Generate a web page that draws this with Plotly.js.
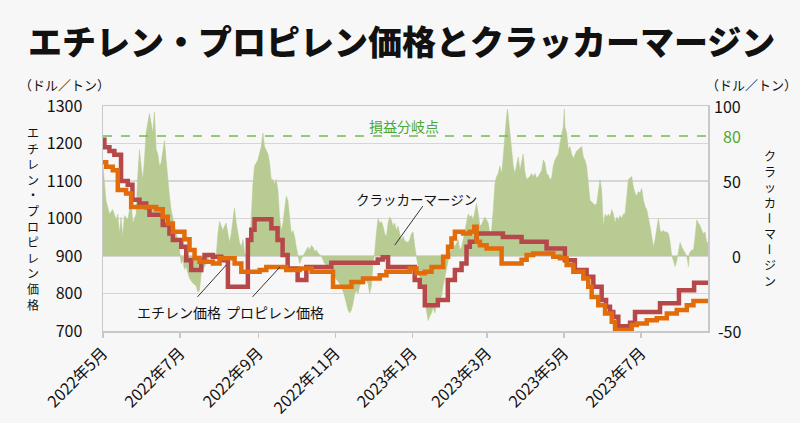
<!DOCTYPE html>
<html><head><meta charset="utf-8">
<script src="https://cdn.plot.ly/plotly-3.0.1.min.js"></script>
<style>html,body{margin:0;padding:0;background:#f7f7f7;}#c{width:800px;height:423px;}</style>
</head><body><div id="c"></div>
<script>
// x values: days since 2022-05-01
const tickDays = [0, 61, 123, 184, 245, 304, 365, 426];
const tickLabels = ['2022年5月','2022年7月','2022年9月','2022年11月','2023年1月','2023年3月','2023年5月','2023年7月'];

const priceTicks = [700, 800, 900, 1000, 1100, 1200, 1300];
const marginTicks = [100, 80, 50, 0, -50];
const priceRange = [700, 1300];
const marginRange = [-50, 100];
const breakEven = 80;

const marginDay = [0,2.4,5.1,7.7,10.4,11.7,13,14.3,15.6,17,19.6,22.2,23.6,26.2,27.5,28.9,30.2,31.5,32.8,34.1,36.8,38.1,39.4,40.7,42.1,43.4,44.7,46,47.3,48.7,50,51.3,52.6,53.9,55.3,56.6,57.9,59.2,60.6,61.9,63.2,64.5,65.8,67.2,68.5,71.1,73.8,75.1,76.4,77.7,79.1,81.7,83,84.3,87,89.6,91,92.3,93.6,94.9,96.2,97.5,98.9,100.2,101.5,102.8,104.1,105.5,106.8,108.1,109.4,110.8,112.1,113.4,114.7,116,117.4,118.7,120,
122.6,125.3,126.6,127.9,129.2,130.6,131.9,133.2,134.5,135.9,137.2,138.5,139.8,141.1,142.5,143.8,145.1,146.4,147.7,149.1,150.4,151.7,153,154.3,155.7,157,158.3,159.6,161,162.3,163.6,164.9,166.2,167.6,168.9,170.2,172.8,175.5,178.1,180.8,183.4,186.1,188.7,191.3,192.7,194,195.3,196.6,197.9,199.3,200.6,201.9,203.2,204.5,205.9,207.2,208.5,209.8,211.1,212.5,213.8,215.1,216.4,217.8,219.1,220.4,221.7,223,224.4,225.7,227,228.3,229.6,231,232.3,233.6,234.9,236.2,237.6,238.9,241.5,
242.9,244.2,245.5,246.9,248.2,249.5,250.8,252.1,253.5,254.8,256.1,257.4,258.8,260.1,261.4,262.7,264,265.4,266.7,268,269.3,270.6,272,273.3,274.6,275.9,277.2,278.6,279.9,281.2,282.5,283.9,285.2,286.5,287.8,289.1,290.5,291.8,293.1,294.4,295.7,297.1,298.4,299.7,301,302.3,303.7,305,306.3,307.6,309,310.3,311.6,312.9,314.2,315.6,316.9,318.2,319.5,320.3,321.4,322.2,323.5,324.8,326.1,327.4,328.8,330.1,331.4,332.7,334,335.4,336.7,338,339.3,340.7,342,343.3,344.6,345.9,347.3,348.6,349.9,351.2,352.5,353.9,355.2,356.5,357.8,359.1,360.5,361.8,363.1,364.4,365.2,
365.8,367.1,368.4,369.7,371,372.4,373.7,375,376.3,377.7,379,380.3,381.6,382.9,384.3,385.6,386.9,388.2,389.5,390.9,392.2,393.5,394.8,396.1,397.5,398.8,400.1,401.4,402.8,404.1,405.4,406.7,408,409.4,410.7,412,413.3,414.6,416,417.3,418.6,419.9,421.2,422.6,423.9,425.2,426.5,427.9,429.2,430.5,431.8,433.1,434.5,435.8,437.1,438.4,439.7,441.1,442.4,443.7,445,446.3,447.7,449,450.3,451.6,453,454.3,455.6,456.9,458.2,459.6,460.9,462.2,463.5,464.3,466.2,467.5,468.8,470.1,471.4,472.8,474.1,475.4,476.7,478,479];
const marginVal = [60,37,28,31,24,28,15,26,13,27,24,37,22,28,53,71,60,51,64,82,95,88,82,96,71,68,60,62,68,77,64,51,40,31,24,20,15,11,4,-5,-3,-9,-7,-12,-15,-18,-20,-24,-23,-12,-9,-5,-3,0,-3,0,15,23,20,17,20,22,15,9,15,22,32,22,15,9,6,11,2,0,2,6,26,48,60,
64,73,82,73,71,68,62,51,51,48,51,44,26,17,22,31,40,37,24,15,17,13,6,0,-5,-2,0,2,4,6,4,7,6,3,4,2,0,-5,-7,-9,-14,-17,-20,-27,-33,-36,-38,-36,-32,-25,-23,-25,-20,-18,-19,-16,-17,-18,-25,-20,-5,2,15,25,22,23,20,15,13,22,26,24,20,22,17,20,15,11,13,10,9,
11,15,16,6,0,-7,-14,-16,-23,-29,-38,-43,-40,-38,-34,-38,-32,-34,-29,-27,-20,-14,-7,-3,0,4,9,6,9,11,4,6,11,17,22,28,26,27,24,31,35,28,20,21,24,26,24,22,15,17,31,48,53,55,60,55,66,82,93,98,86,82,71,60,55,60,66,57,64,68,56,51,52,53,55,53,55,52,53,55,57,64,62,55,54,51,52,60,64,66,68,75,80,86,98,
86,82,71,73,68,65,68,70,71,72,73,66,64,60,48,37,36,35,34,35,42,51,44,20,28,26,28,26,31,28,22,26,24,27,25,28,28,40,51,52,53,46,42,40,43,42,45,37,33,31,24,20,13,6,11,20,25,17,16,17,16,16,15,9,0,-3,-7,-3,4,9,6,4,2,0,-7,2,4,4,13,24,22,20,17,15,16,9,9];

const ethDay = [0,1.1,5.1,9,14.3,19.6,23.3,28.9,34.2,36.8,47.3,52.6,55.3,61.9,65.9,69.8,77.8,80.4,87,93.6,98.9,114.7,117.4,120,133.3,138.2,142.2,146.2,154.1,161,180.8,217.5,221.5,225.7,246.8,250.8,254.8,265.1,273,278.6,283.9,287.8,290.4,295.8,316.6,331.4,351.2,365.7,373.6,382.9,388.2,394.8,398.3,401.4,404,408,417.3,421.2,441,456,468,479];
const ethVal = [1210,1190,1180,1170,1100,1090,1050,1040,1030,1010,983,960,943,925,889,863,889,903,898,889,818,943,970,998,974,943,903,867,836,871,882,891,897,871,836,818,769,783,836,863,880,925,938,960,951,938,920,889,863,845,818,783,765,751,738,713,722,751,774,809,829,829];

const proDay = [0,2.5,7.7,11.7,18.3,22.3,42.1,47.3,51.3,55.3,64.5,68.5,72.5,76.4,87,92.3,104.2,109.5,124,129.3,145.1,155.7,165.2,182.1,196.7,205.9,219.1,224.4,242.9,248.2,254.8,260.1,269.3,273.2,275.9,278.6,285.1,290.4,293.9,295.8,298.4,303.7,315.6,331.4,335.4,340.6,356.5,361.8,367.1,372.4,380.3,384.2,386.9,392.1,397.5,402.8,405.4,418.6,422.6,430.5,438.4,446.4,454.3,462.2,467.5,479];
const proVal = [1150,1138,1129,1076,1067,1031,1025,1005,987,965,945,916,894,885,880,894,880,858,863,871,863,867,858,818,831,840,849,858,867,854,858,871,898,925,947,965,960,965,978,938,929,920,880,890,903,907,898,894,876,858,840,818,791,769,747,725,703,716,720,729,734,747,756,769,780,780];

const FONT = '"Noto Sans CJK JP", "Noto Sans", sans-serif';
const L = 103, R = 708, T = 106, B = 331, W = 800, H = 423;
const pxX = p => (p - L) / (R - L);
const pxY = p => (B - p) / (B - T);
// position of a price value on the (left, primary) margin scale, from the two axis ranges
const priceOnMarginScale = v => marginRange[0] + (v - priceRange[0]) * (marginRange[1] - marginRange[0]) / (priceRange[1] - priceRange[0]);

const traces = [
  {x: marginDay, y: marginVal, yaxis: 'y', type: 'scatter', mode: 'lines', fill: 'tozeroy',
   fillcolor: 'rgb(183,203,146)', line: {color: 'rgb(183,203,146)', width: 0.5}, hoverinfo: 'skip'},
  {x: ethDay, y: ethVal, yaxis: 'y2', type: 'scatter', mode: 'lines', line: {color: '#b6484a', width: 4.5, shape: 'hv'}},
  {x: proDay, y: proVal, yaxis: 'y2', type: 'scatter', mode: 'lines', line: {color: '#e36c0a', width: 4.5, shape: 'hv'}}
];

const ann = [];
const tfont = {family: FONT, size: 12, color: '#111'};
const stack = s => [...s].join('<br>');
// left axis title, stacked vertically
ann.push({text: stack('エチレン・プロピレン価格'), xref: 'paper', yref: 'paper', x: pxX(33), y: pxY(218),
  xanchor: 'center', yanchor: 'middle', showarrow: false, font: tfont});
// right axis title, stacked vertically (long vowel marks turned upright)
const rightParts = ['クラッカ', 'ー', 'マ', 'ー', 'ジン'];
const lineStep = 15.6;
let rTop = 218 - 4 * lineStep; // centre of first character
rightParts.forEach(part => {
  const n = [...part].length;
  const cy = rTop + (n - 1) * lineStep / 2;
  ann.push({text: stack(part), xref: 'paper', yref: 'paper', x: pxX(770), y: pxY(cy),
    xanchor: 'center', yanchor: 'middle', showarrow: false, textangle: part === 'ー' ? 90 : 0, font: tfont});
  rTop += n * lineStep;
});

marginTicks.forEach(v => ann.push({text: String(v), xref: 'paper', yref: 'y', x: pxX(743), y: v,
  xanchor: 'right', yanchor: 'middle', showarrow: false,
  font: {family: FONT, size: 16, color: v === breakEven ? '#4ea72e' : '#111'}}));

ann.push({text: '（ドル／トン）', xref: 'paper', yref: 'paper', x: pxX(64), y: pxY(84), xanchor: 'center', yanchor: 'middle', showarrow: false, font: {family: FONT, size: 13, color: '#111'}});
ann.push({text: '（ドル／トン）', xref: 'paper', yref: 'paper', x: pxX(751), y: pxY(84), xanchor: 'center', yanchor: 'middle', showarrow: false, font: {family: FONT, size: 13, color: '#111'}});
ann.push({text: '損益分岐点', xref: 'x', yref: 'y2', x: 238, y: 1247, xanchor: 'center', yanchor: 'middle', showarrow: false, font: {family: FONT, size: 14, color: '#4ea72e'}});
ann.push({text: 'エチレン価格', xref: 'x', yref: 'y2', x: 60.5, y: 751, xanchor: 'center', yanchor: 'middle', showarrow: false, font: {family: FONT, size: 14, color: '#111'}});
ann.push({text: 'プロピレン価格', xref: 'x', yref: 'y2', x: 136, y: 751, xanchor: 'center', yanchor: 'middle', showarrow: false, font: {family: FONT, size: 14, color: '#111'}});
ann.push({text: 'クラッカーマージン', xref: 'x', yref: 'y2', x: 248.5, y: 1052, xanchor: 'center', yanchor: 'middle', showarrow: false, font: {family: FONT, size: 13.5, color: '#111'}});

const shapes = [
  {type: 'line', xref: 'x', yref: 'y', x0: 0, x1: 479, y0: breakEven, y1: breakEven, line: {color: '#6cc04a', width: 1.5, dash: 'dash'}},
  {type: 'line', xref: 'x', yref: 'y2', x0: 74.8, y0: 791, x1: 97.6, y1: 876, line: {color: '#333', width: 1}},
  {type: 'line', xref: 'x', yref: 'y2', x0: 118.4, y0: 791, x1: 140.2, y1: 871, line: {color: '#333', width: 1}},
  {type: 'line', xref: 'x', yref: 'y2', x0: 253.2, y0: 1033, x1: 231, y1: 929, line: {color: '#333', width: 1}}
];

const layout = {
  width: W, height: H, paper_bgcolor: '#f7f7f7', plot_bgcolor: '#f7f7f7',
  margin: {l: L, r: W - R, t: T, b: H - B, pad: 0},
  showlegend: false,
  font: {family: FONT, size: 15, color: '#111'},
  title: {text: 'エチレン・プロピレン価格とクラッカーマージン', font: {family: FONT, size: 34, weight: 900, color: '#111'},
    xref: 'container', yref: 'container', x: 0.502, y: 1 - 43 / H, xanchor: 'center', yanchor: 'middle'},
  xaxis: {range: [0, 479], tickmode: 'array', tickvals: tickDays, ticktext: tickLabels, tickangle: -45,
    ticks: 'outside', ticklen: 5, tickcolor: '#c8c8c8', tickwidth: 1.5, showgrid: false, zeroline: false,
    showline: true, linecolor: '#c8c8c8', linewidth: 1.5, mirror: true,
    tickfont: {family: FONT, size: 16, color: '#111'}},
  yaxis: {range: marginRange, tickmode: 'array', tickvals: priceTicks.map(priceOnMarginScale), ticktext: priceTicks.map(String),
    showgrid: true, gridcolor: '#d6d6d6', gridwidth: 1.5,
    zeroline: false, showline: true, linecolor: '#c8c8c8', linewidth: 1.5, ticks: '', ticklabelstandoff: 16,
    tickfont: {family: FONT, size: 16, color: '#111'}},
  yaxis2: {range: priceRange, overlaying: 'y', side: 'right', showgrid: false, zeroline: false,
    showline: true, linecolor: '#c8c8c8', linewidth: 1.5, showticklabels: false, ticks: ''},
  annotations: ann, shapes: shapes
};

Plotly.newPlot('c', traces, layout, {staticPlot: true, displayModeBar: false});
</script></body></html>
